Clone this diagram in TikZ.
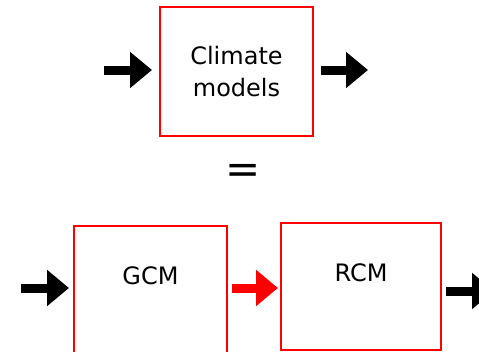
\documentclass[tikz,border=0pt]{standalone}
\usepackage{fontspec}
\setmainfont{DejaVu Sans}
\usetikzlibrary{arrows.meta}

\begin{document}
\begin{tikzpicture}[x=1pt, y=-1pt]
	\tikzstyle{box} = [rectangle, draw=red, line width=2pt, inner sep=0pt, font=\fontsize{24}{32}\selectfont, align=center]
	\tikzstyle{lbl} = [inner sep=0pt, font=\fontsize{24}{32}\selectfont]
	\tikzstyle{edge} = [-{Triangle[length=22pt, width=35pt]}, line width=9pt]
	\useasboundingbox (0,0) rectangle (479,351);
	\clip (0,0) rectangle (479,351);
	\node[box, minimum width=153pt, minimum height=129pt](clim) at (236.5,71.5){Climate\\models};
	\node[lbl](eq) at (243.5,174){\fontsize{42}{42}\selectfont =};
	\node[box, minimum width=153pt, minimum height=129pt](gcm) at (150.5,290.5){};
	\node[box, minimum width=160pt, minimum height=127pt](rcm) at (361,286.5){};
	\node[lbl](gcmtext) at ([yshift=14.5pt]gcm.center){GCM};
	\node[lbl](rcmtext) at ([yshift=13.5pt]rcm.center){RCM};
	\coordinate (climin) at (104,70);
	\coordinate (climout) at (368,70);
	\coordinate (gcmin) at (21,288);
	\coordinate (rcmout) at (494,291);
	\draw[edge, shorten >=7pt] (climin) -- (climin -| clim.west);
	\draw[edge, shorten <=7pt] (climout -| clim.east) -- (climout);
	\draw[edge, shorten >=4pt] (gcmin) -- (gcmin -| gcm.west);
	\draw[edge, red, shorten <=4pt, shorten >=2pt] (gcmin -| gcm.east) -- (gcmin -| rcm.west);
	\draw[edge, shorten <=4pt] (rcmout -| rcm.east) -- (rcmout);
\end{tikzpicture}
\end{document}
